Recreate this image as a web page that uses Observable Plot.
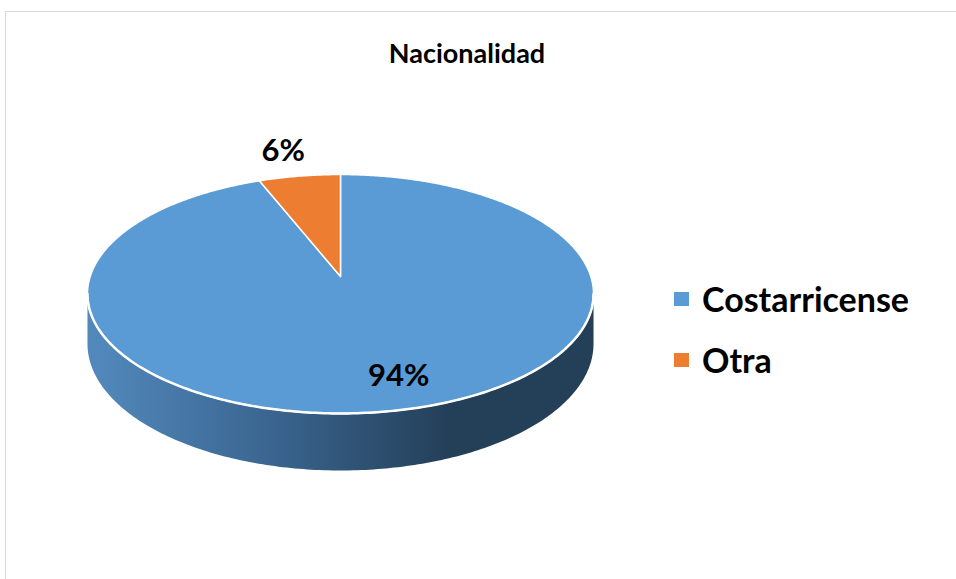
<!DOCTYPE html>
<html>
<head>
<meta charset="utf-8">
<script src="https://cdn.jsdelivr.net/npm/d3@7"></script>
<script src="https://cdn.jsdelivr.net/npm/@observablehq/plot@0.6"></script>
<style>
  html, body { margin: 0; padding: 0; background: #fff; }
  #wrap { position: relative; width: 956px; height: 579px; overflow: hidden; font-family: Lato, "Open Sans", sans-serif; }
  #frame { position: absolute; left: 5px; top: 11px; width: 1000px; height: 1000px; border: 1px solid #d9d9d9; box-sizing: border-box; }
  #chart { position: absolute; left: 0; top: 0; }
  #title { position: absolute; left: 0; width: 934px; top: 36px; text-align: center; font-weight: 700; font-size: 27px; line-height: 34px; color: #000; }
  #legend { position: absolute; left: 674px; top: 268px; }
  .item { display: flex; align-items: center; height: 61px; font-weight: 700; font-size: 34px; color: #000; }
  .sw { width: 15px; height: 14px; margin-right: 13px; }
</style>
</head>
<body>
<div id="wrap">
  <div id="frame"></div>
  <div id="chart"></div>
  <div id="title">Nacionalidad</div>
  <div id="legend"></div>
</div>
<script>
const categories = ["Costarricense", "Otra"];
const values = [94, 6];
const labels = ["94%", "6%"];
const colors = ["#5B9BD5", "#ED7D31"];

// pie geometry (perspective ellipse)
const W = 956, H = 579;
const CX = 340, CY = 276, A = 250.3, B = 116.9, K = 0.1464, D = 48.7;
function proj(theta, r = 1, drop = 0) {
  const u = r * Math.sin(theta), v = -r * Math.cos(theta);
  const w = 1 - K * v;
  return {x: CX + A * u / w, y: CY + B * v / w + drop / w};
}

const pie = d3.pie().sort(null).value((d, i) => values[i])(categories);
const slicePts = [];
pie.forEach((p, i) => {
  const name = categories[i];
  slicePts.push({name, ...proj(0, 0)});
  const n = Math.max(4, Math.ceil((p.endAngle - p.startAngle) / 0.01));
  for (let j = 0; j <= n; j++) {
    const t = p.startAngle + (p.endAngle - p.startAngle) * j / n;
    slicePts.push({name, ...proj(t)});
  }
  slicePts.push({name, ...proj(0, 0)});
});

// side wall (front visible part)
const tL = 2 * Math.PI - Math.acos(-K), tR = Math.acos(-K);
const side = [], rim = [];
const N = 200;
for (let j = 0; j <= N; j++) { const t = tR + (tL - tR) * j / N; const p = proj(t); side.push(p); rim.push(p); }
for (let j = N; j >= 0; j--) { const t = tR + (tL - tR) * j / N; side.push(proj(t, 1, D)); }

// labels
const labelPos = pie.map((p, i) => {
  const mid = (p.startAngle + p.endAngle) / 2;
  const r = i === 0 ? 0.78 : 1.3;
  const q = proj(mid, r);
  return {label: labels[i], x: q.x + (i === 0 ? 17 : -6), y: q.y - (i === 0 ? 1 : 0)};
});

const defs = () => {
  const svg = d3.create("svg:defs");
  const g = svg.append("linearGradient").attr("id", "sideGrad")
    .attr("gradientUnits", "userSpaceOnUse").attr("x1", 90).attr("x2", 450).attr("y1", 0).attr("y2", 0);
  g.append("stop").attr("offset", "0%").attr("stop-color", "#5289bc");
  g.append("stop").attr("offset", "50%").attr("stop-color", "#3a6590");
  g.append("stop").attr("offset", "100%").attr("stop-color", "#243f58");
  return svg.node();
};

const chart = Plot.plot({
  width: W, height: H,
  margin: 0,
  x: {domain: [0, W], range: [0, W], axis: null},
  y: {domain: [0, H], range: [0, H], axis: null},
  color: {domain: categories, range: colors},
  style: {background: "transparent", overflow: "visible"},
  marks: [
    defs,
    Plot.line(side, {x: "x", y: "y", fill: "url(#sideGrad)", stroke: "none"}),
    Plot.line(slicePts, {x: "x", y: "y", z: "name", fill: "name", stroke: "white", strokeWidth: 1.5, strokeLinejoin: "round"}),
    Plot.line(rim, {x: "x", y: "y", stroke: "white", strokeWidth: 2.5}),
    Plot.text(labelPos, {x: "x", y: "y", text: "label", fontSize: 31, fontWeight: 700, fill: "#000", fontFamily: "Lato, 'Open Sans', sans-serif"})
  ]
});
document.getElementById("chart").appendChild(chart);

const legend = d3.select("#legend");
categories.forEach((c, i) => {
  const it = legend.append("div").attr("class", "item");
  it.append("div").attr("class", "sw").style("background", colors[i]);
  it.append("span").text(c);
});
</script>
</body>
</html>
